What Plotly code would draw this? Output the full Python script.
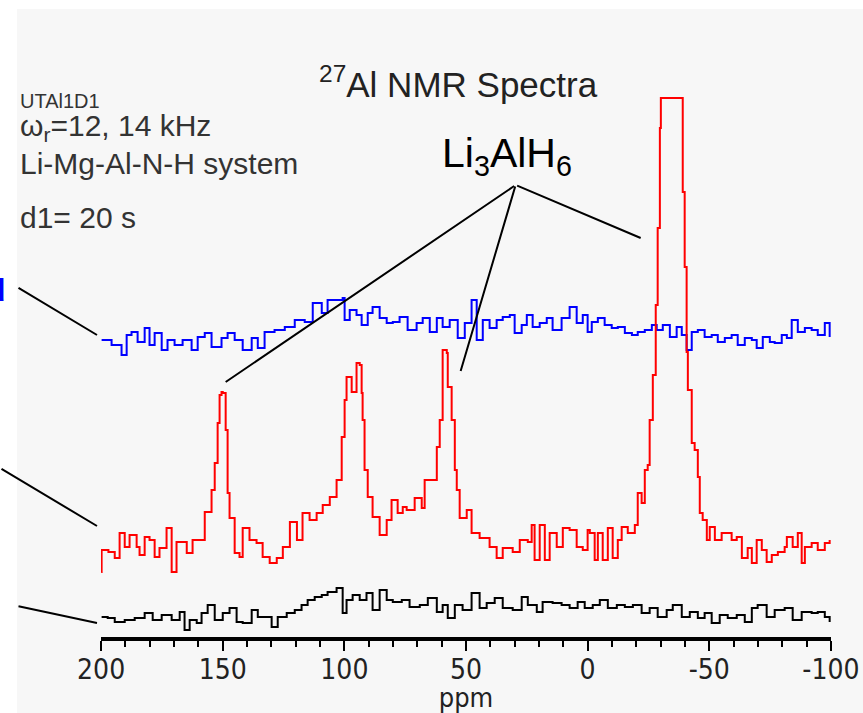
import plotly.graph_objects as go

# 27Al NMR spectra, intensities (arbitrary units,
# each trace relative to its own baseline)
red_ppm = [200.0, 199.8, 197.0, 194.4, 192.4, 190.3, 188.3, 185.4, 184.2, 182.1,
           180.1, 178.0, 176.0, 173.1, 171.0, 169.0, 166.9, 164.8, 162.4, 159.5,
           157.4, 154.6, 153.3, 152.1, 151.3, 150.5, 150.0, 148.8, 148.0, 147.2,
           145.1, 143.1, 141.8, 139.0, 136.1, 133.6, 130.7, 127.8, 125.3, 122.4,
           119.5, 117.2, 114.3, 111.4, 108.9, 106.0, 103.2, 101.1, 99.9, 99.1,
           97.0, 95.0, 93.7, 92.9, 92.5, 91.7, 90.4, 88.4, 85.5, 82.6,
           80.6, 78.1, 76.0, 74.4, 71.1, 68.2, 67.0, 62.0, 60.8, 59.6,
           57.9, 57.5, 55.9, 54.6, 53.8, 52.6, 49.7, 47.7, 44.4, 40.3,
           37.4, 34.9, 30.8, 27.9, 24.6, 23.0, 21.8, 19.7, 17.6, 15.6,
           12.7, 10.2, 7.4, 4.5, 2.0, 0.0, -0.9, -2.9, -4.2, -6.2,
           -8.3, -10.3, -12.4, -14.0, -16.5, -19.4, -20.6, -22.2, -23.5, -24.7,
           -25.5, -26.8, -28.0, -28.8, -29.7, -30.1, -39.1, -39.9, -40.7, -41.2,
           -42.8, -44.0, -45.3, -46.1, -47.3, -49.0, -50.2, -52.3, -55.1, -57.6,
           -59.2, -61.3, -63.4, -65.8, -67.5, -69.5, -71.6, -73.6, -75.7, -78.2,
           -81.0, -81.9, -84.3, -86.4, -88.0, -89.3, -92.1, -94.6, -97.5, -99.5]
red_int = [-3.0, 1.4, 1.0, -0.2, 4.8, 2.0, 4.4, 2.0, 0.4, 4.0,
           3.4, 0.0, 1.8, 5.8, -3.0, 3.0, 3.0, 0.8, 3.4, 3.4,
           9.0, 13.4, 18.8, 26.8, 32.4, 33.0, 32.8, 25.4, 12.8, 7.8,
           0.8, 0.0, 5.8, 3.4, 2.8, 0.0, -1.2, -0.2, 2.0, 7.0,
           3.4, 8.8, 7.4, 8.8, 10.4, 12.0, 15.4, 24.0, 31.4, 36.0,
           33.0, 38.8, 38.4, 32.8, 27.4, 17.4, 12.0, 8.0, 4.4, 7.4,
           11.4, 8.8, 10.0, 9.4, 11.8, 9.8, 15.4, 22.0, 27.4, 41.4,
           40.8, 34.0, 27.4, 17.4, 13.4, 7.8, 9.4, 4.8, 3.8, 2.0,
           -0.2, 1.8, 1.0, 3.4, 3.0, 6.4, -0.6, 6.4, -0.6, 4.8,
           2.0, 5.8, 5.4, 2.0, 1.4, 5.4, 4.8, -0.6, 4.8, -0.6,
           5.8, -0.2, 3.4, 6.0, 4.8, 6.4, 12.8, 10.8, 17.4, 18.4,
           27.4, 36.4, 50.4, 65.8, 85.8, 91.8, 73.0, 58.0, 41.0, 33.4,
           22.8, 21.4, 16.0, 8.8, 7.4, 3.4, 6.0, 3.4, 4.8, 4.8,
           3.4, 4.0, -0.2, 1.8, -1.2, 3.4, 1.4, -1.0, 0.4, 1.0,
           2.0, 4.0, 2.0, 4.8, -1.2, 2.0, 2.8, 1.4, 2.8, 3.4]

blue_ppm = [199.8, 195.7, 191.6, 189.5, 187.5, 185.0, 182.1, 180.1, 178.0, 175.1,
            172.7, 169.8, 166.5, 162.8, 160.3, 157.4, 154.6, 150.5, 148.0, 145.1,
            141.8, 138.1, 135.6, 132.8, 128.7, 124.5, 120.4, 116.3, 113.0, 109.3,
            106.9, 102.8, 100.7, 99.9, 97.8, 95.0, 92.9, 90.4, 88.4, 85.5,
            82.6, 80.1, 77.3, 74.0, 70.3, 67.8, 64.9, 62.0, 59.6, 56.7,
            53.4, 50.5, 47.7, 45.6, 43.1, 40.3, 37.4, 34.9, 32.0, 30.0,
            27.1, 25.0, 22.6, 19.7, 16.8, 14.4, 10.7, 7.4, 4.5, 2.0,
            0.0, -1.7, -4.2, -7.0, -9.9, -12.4, -15.3, -18.2, -20.6, -23.5,
            -26.4, -28.4, -30.9, -33.8, -36.6, -38.7, -40.7, -42.8, -45.3, -48.1,
            -51.0, -53.5, -56.4, -59.2, -61.7, -64.6, -67.5, -69.5, -72.0, -74.9,
            -76.9, -79.8, -81.9, -83.9, -86.4, -89.3, -92.1, -94.6, -97.5, -99.5]
blue_int = [1.4, 0.4, -1.6, 2.4, 3.0, 1.0, 3.8, 0.4, 2.8, -0.6,
            1.4, 0.4, 1.4, -0.6, 2.0, 2.8, 0.0, 1.8, 2.8, 1.4,
            -0.6, 1.8, -0.2, 3.0, 3.4, 4.0, 5.4, 5.0, 8.8, 6.8,
            9.4, 9.4, 9.8, 5.4, 7.4, 6.4, 4.4, 6.8, 8.0, 5.8,
            4.8, 5.0, 6.0, 3.4, 4.8, 5.8, 3.0, 5.8, 4.0, 5.4,
            1.8, 4.8, 9.4, 1.4, 5.4, 3.8, 5.4, 6.0, 6.4, 2.8,
            4.4, 6.4, 4.0, 4.8, 5.8, 3.4, 5.8, 8.0, 4.8, 6.4,
            3.0, 5.0, 5.8, 4.4, 3.8, 4.0, 2.8, 2.4, 3.0, 3.4,
            4.4, 3.4, 4.4, 2.0, 4.0, 2.4, -0.6, 3.0, 3.4, 2.0,
            2.4, 1.0, 1.8, 2.4, 0.4, 1.8, 1.4, -0.2, 2.0, 1.0,
            0.8, 2.4, 1.8, 5.4, 3.0, 3.8, 3.4, 2.4, 4.8, 2.0]

black_ppm = [199.8, 197.3, 194.4, 190.3, 186.2, 182.1, 178.8, 175.1, 171.0, 167.7,
             165.7, 163.6, 160.7, 158.7, 156.2, 153.3, 150.0, 147.2, 144.3, 141.8,
             138.1, 135.6, 132.8, 129.9, 127.4, 123.7, 120.4, 117.6, 115.1, 112.2,
             109.3, 106.9, 103.2, 100.7, 99.1, 96.6, 93.7, 90.9, 88.4, 85.5,
             82.6, 80.1, 76.4, 73.2, 69.0, 65.7, 62.0, 59.6, 57.5, 54.6,
             51.4, 47.7, 44.4, 41.5, 38.2, 34.9, 30.8, 27.1, 24.6, 20.9,
             18.5, 14.4, 10.7, 7.4, 4.1, 1.2, -2.1, -5.0, -8.3, -12.0,
             -15.3, -18.6, -22.2, -25.5, -28.8, -32.5, -35.0, -38.7, -42.0, -45.3,
             -48.1, -51.0, -54.3, -57.6, -61.3, -64.6, -67.5, -69.9, -73.6, -76.9,
             -81.0, -84.3, -88.0, -92.1, -94.6, -97.5, -99.5]
black_int = [0.0, -0.2, -1.0, -0.6, -0.2, 0.8, -0.6, 0.4, -0.6, 1.0,
             -2.6, -0.6, -1.2, 0.8, 2.4, -0.6, 0.8, 1.8, -1.0, -1.2,
             1.4, 0.0, 0.0, -2.0, 0.0, 0.8, 1.4, 2.4, 3.4, 4.0,
             4.4, 5.0, 5.8, 0.8, 3.4, 4.4, 3.4, 4.8, 1.4, 5.4,
             3.4, 3.0, 3.4, 2.0, 2.4, 3.8, 1.0, 2.4, -0.2, 2.4,
             1.4, 4.8, 1.8, 2.8, 3.8, 1.8, 1.4, 4.0, 2.4, 1.0,
             3.0, 2.8, 2.4, 1.8, 3.0, 1.8, 2.4, 3.4, 1.8, 2.4,
             2.0, 2.4, 0.8, 1.8, 0.0, 1.4, 2.4, 0.0, 1.0, -0.2,
             0.8, -1.2, 0.4, -0.2, 0.4, -1.0, 1.8, 2.4, 0.0, 1.4,
             1.8, -0.6, 1.0, 0.8, 1.0, 0.0, -1.0]

x_ticks = [200, 150, 100, 50, 0, -50, -100]
x_tick_text = ['200', '150', '100', '50', '0', '-50', '-100']

# stacking offsets of the spectra
offsets = {'black': 4, 'red': 16, 'blue': 58}

W, H = 863, 713
L, R, T, B = 101, 32, 90, 76
PW, PH = W - L - R, H - T - B
Y_TOP = PH / 5.0

FONT = 'Liberation Sans, Arial, sans-serif'
NARROW = 'Liberation Sans Narrow, DejaVu Sans Condensed, Liberation Sans, sans-serif'


def px(x):
    return (x - L) / PW


def py(y):
    return (H - B - y) / PH


fig = go.Figure()

for name, xs, ys, color in [('blue', blue_ppm, blue_int, '#0000ff'),
                            ('red', red_ppm, red_int, '#ff0000'),
                            ('black', black_ppm, black_int, '#000000')]:
    fig.add_trace(go.Scatter(
        x=xs, y=[v + offsets[name] for v in ys],
        mode='lines', line=dict(color=color, width=2, shape='hv'),
        showlegend=False, hoverinfo='skip'))

annotations = []

# leader lines from the Li3AlH6 label
for tip_x, tip_y, ax, ay in [(148.8, 51.0, 290, -197),
                             (52.2, 53.2, 55, -186),
                             (-21.8, 79.8, -125, -53)]:
    annotations.append(dict(x=tip_x, y=tip_y, xref='x', yref='y', text='',
                            showarrow=True, arrowhead=0, arrowwidth=2,
                            arrowcolor='black', ax=ax, ay=ay))

# leader lines from the (cut off) sample labels on the left
for tip_y, ax, ay in [(60.4, -80, -48), (22.2, -97, -58), (2.8, -80, -17)]:
    annotations.append(dict(x=px(97), y=tip_y, xref='paper', yref='y', text='',
                            showarrow=True, arrowhead=0, arrowwidth=2,
                            arrowcolor='black', ax=ax, ay=ay))

annotations += [
    dict(x=px(458), y=py(82), text='<sup>27</sup>Al NMR Spectra',
         font=dict(family=FONT, size=35, color='#222222')),
    dict(x=px(18), y=py(101), text='UTAl1D1', xanchor='left',
         font=dict(family=FONT, size=20, color='#333333')),
    dict(x=px(18), y=py(128), text='ω<sub>r</sub>=12, 14 kHz', xanchor='left',
         font=dict(family=FONT, size=30, color='#333333')),
    dict(x=px(18), y=py(163), text='Li-Mg-Al-N-H system', xanchor='left',
         font=dict(family=FONT, size=30, color='#333333')),
    dict(x=px(18), y=py(217), text='d1= 20 s', xanchor='left',
         font=dict(family=FONT, size=30, color='#333333')),
    dict(x=px(507), y=py(156), text='Li<sub>3</sub>AlH<sub>6</sub>',
         font=dict(family=FONT, size=41, color='black')),
    dict(x=px(8), y=py(290), text='<b>d</b>', xanchor='right',
         font=dict(family=FONT, size=32, color='#0000ff')),
]
for a in annotations[6:]:
    a.setdefault('xref', 'paper')
    a.setdefault('yref', 'paper')
    a.setdefault('showarrow', False)
    a.setdefault('yanchor', 'middle')

fig.update_layout(
    width=W, height=H,
    margin=dict(l=L, r=R, t=T, b=B, autoexpand=False),
    paper_bgcolor='#f7f7f7', plot_bgcolor='#f7f7f7',
    showlegend=False,
    annotations=annotations,
    shapes=[
        dict(type='rect', xref='paper', yref='paper', layer='below',
             x0=px(0), x1=px(17), y0=py(H), y1=py(0),
             fillcolor='white', line=dict(width=0)),
        dict(type='rect', xref='paper', yref='paper', layer='below',
             x0=px(0), x1=px(W), y0=py(9), y1=py(0),
             fillcolor='white', line=dict(width=0)),
    ],
)

fig.update_xaxes(
    range=[200.05, -100.05], autorange=False, automargin=False,
    tickvals=x_ticks, ticktext=x_tick_text,
    showline=True, linewidth=4, linecolor='black', mirror=False,
    ticks='outside', ticklen=10, tickwidth=2, tickcolor='black',
    minor=dict(dtick=10, tick0=0, ticks='outside', ticklen=6, tickwidth=2,
               tickcolor='black', showgrid=False),
    showgrid=False, zeroline=False,
    ticklabelstandoff=-6,
    tickfont=dict(family=NARROW, size=28, color='#222222'),
    title=dict(text='ppm', standoff=3,
               font=dict(family=NARROW, size=27, color='#222222')),
)
fig.update_yaxes(range=[0, Y_TOP], visible=False, showgrid=False,
                 zeroline=False, automargin=False)

# the page's default body margin would push the figure 8 px off its place
fig.write_html("out.html", config={'displayModeBar': False},
               post_script="document.body.style.margin='0';")
